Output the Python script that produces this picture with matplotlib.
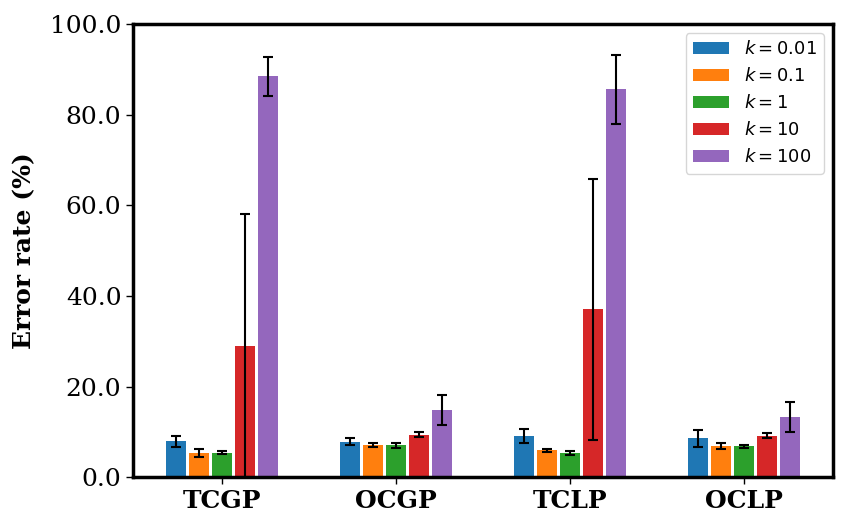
import matplotlib
matplotlib.use("Agg")
import matplotlib.pyplot as plt
import numpy as np

groups = ["TCGP", "OCGP", "TCLP", "OCLP"]
labels = [r"$k = 0.01$", r"$k = 0.1$", r"$k = 1$", r"$k = 10$", r"$k = 100$"]
colors = ["#1f77b4", "#ff7f0e", "#2ca02c", "#d62728", "#9467bd"]

k001 = [7.9, 7.8, 9.1, 8.6]
k01 = [5.3, 7.2, 5.9, 6.9]
k1 = [5.4, 7.0, 5.4, 6.8]
k10 = [29.0, 9.4, 37.1, 9.2]
k100 = [88.5, 14.8, 85.6, 13.2]
values = [k001, k01, k1, k10, k100]

e001 = [1.3, 0.8, 1.5, 1.9]
e01 = [0.9, 0.45, 0.4, 0.65]
e1 = [0.3, 0.45, 0.4, 0.3]
e10 = [29.0, 0.5, 28.8, 0.5]
e100 = [4.3, 3.3, 7.6, 3.3]
errors = [e001, e01, e1, e10, e100]

fig, ax = plt.subplots(figsize=(8.54, 5.32), dpi=100)
x = np.arange(len(groups))
pitch = 0.132
width = 0.112
for i, (v, e, c, l) in enumerate(zip(values, errors, colors, labels)):
    ax.bar(x + (i - 2) * pitch, v, width, yerr=e, color=c, label=l,
           capsize=3.5, error_kw=dict(elinewidth=1.5, capthick=1.5, ecolor="black"))

ax.set_xlim(-0.51, 3.51)
ax.set_ylim(0, 100)
ax.set_xticks(x)
ax.set_xticklabels(groups, fontsize=18, fontweight="bold", family="DejaVu Serif")
ax.set_yticks(np.arange(0, 101, 20))
ax.set_yticklabels([f"{t:.1f}" for t in np.arange(0, 101, 20)], fontsize=18, family="DejaVu Serif")
ax.set_ylabel("Error rate (%)", fontsize=18, fontweight="bold", family="DejaVu Serif", labelpad=10)
ax.tick_params(axis="both", length=5, width=1)
for s in ax.spines.values():
    s.set_linewidth(2.5)
ax.legend(loc="upper right", fontsize=13)
fig.subplots_adjust(left=0.156, right=0.975, top=0.955, bottom=0.103)
fig.savefig("out.png", dpi=100)
